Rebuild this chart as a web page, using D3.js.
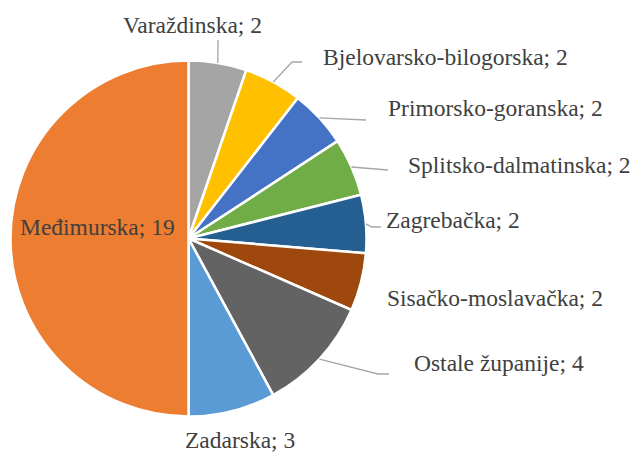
<!DOCTYPE html>
<html>
<head>
<meta charset="utf-8">
<script src="https://cdn.jsdelivr.net/npm/d3@7"></script>
<style>
  body { margin: 0; background: #fff; }
</style>
</head>
<body>
<div id="chart"></div>
<script>
const width = 638
const height = 452

// data
const counties = ['Varaždinska', 'Bjelovarsko-bilogorska', 'Primorsko-goranska', 'Splitsko-dalmatinska',
  'Zagrebačka', 'Sisačko-moslavačka', 'Ostale županije', 'Zadarska', 'Međimurska']
const counts = [2, 2, 2, 2, 2, 2, 4, 3, 19]
const colors = ['#A5A5A5', '#FFC000', '#4472C4', '#70AD47', '#255E91', '#9E480E', '#636363', '#5B9BD5', '#ED7D31']

// label layout: text start (x, baseline y), leader end + optional elbow
const labelLayout = [
  {x: 123, y: 33, leader: [[218, 40]]},
  {x: 323, y: 65, leader: [[292, 62], [302, 62]]},
  {x: 388, y: 116, leader: [[366, 120]]},
  {x: 408, y: 173, leader: [[388, 170]]},
  {x: 386, y: 228, leader: [[372, 227], [381, 227]]},
  {x: 387, y: 306, leader: null},
  {x: 414, y: 371, leader: [[378, 374], [389, 374]]},
  {x: 185, y: 448, leader: null},
  {x: 20, y: 235, leader: null}
]

const cx = 188.5
const cy = 238.5
const radius = 178

const svg = d3.select('#chart')
  .append('svg')
  .attr('width', width)
  .attr('height', height)

const pie = d3.pie().sort(null).value((d) => d)
const arcs = pie(counts)
const arc = d3.arc().innerRadius(0).outerRadius(radius)

const g = svg.append('g').attr('transform', `translate(${cx},${cy})`)

g.selectAll('path')
  .data(arcs)
  .join('path')
  .attr('d', arc)
  .attr('fill', (d, i) => colors[i])
  .attr('stroke', '#fff')
  .attr('stroke-width', 2.5)
  .attr('stroke-linejoin', 'round')

// leader lines start at the outer edge of each slice
const edge = d3.arc().innerRadius(radius).outerRadius(radius)
const line = d3.line()

arcs.forEach((d, i) => {
  const lay = labelLayout[i]
  if (!lay.leader) return
  const [sx, sy] = edge.centroid(d)
  const pts = [[sx + cx, sy + cy]].concat(lay.leader)
  svg.append('path')
    .attr('d', line(pts))
    .attr('fill', 'none')
    .attr('stroke', '#A6A6A6')
    .attr('stroke-width', 1.3)
})

svg.selectAll('text.lbl')
  .data(arcs)
  .join('text')
  .attr('class', 'lbl')
  .attr('x', (d, i) => labelLayout[i].x)
  .attr('y', (d, i) => labelLayout[i].y)
  .style('font-family', "'Times New Roman', Times, Tinos, 'Noto Serif', 'Nimbus Roman', 'FreeSerif', 'Liberation Serif', 'DejaVu Serif', serif")
  .attr('font-size', 23.5)
  .attr('fill', '#404040')
  .text((d, i) => `${counties[i]}; ${counts[i]}`)
</script>
</body>
</html>
